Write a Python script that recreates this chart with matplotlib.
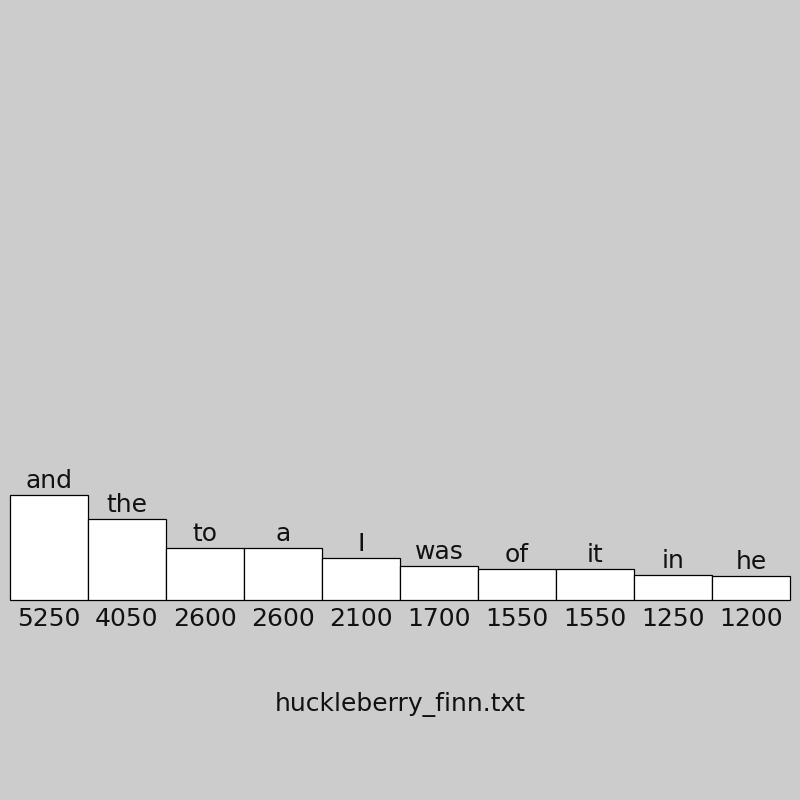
import matplotlib
matplotlib.use("Agg")
import matplotlib.pyplot as plt
from matplotlib.transforms import offset_copy

words = ["and", "the", "to", "a", "I", "was", "of", "it", "in", "he"]
counts = [5250, 4050, 2600, 2600, 2100, 1700, 1550, 1550, 1250, 1200]
title = "huckleberry_finn.txt"

bg = "#cccccc"
fig = plt.figure(figsize=(8, 8), dpi=100, facecolor=bg)
ax = fig.add_axes([10/800, 200/800, 780/800, 600/800])
ax.set_facecolor(bg)
ax.axis("off")
n = len(words)
bars = ax.bar(range(n), counts, width=1.0, align="edge", color="white",
              edgecolor="black", linewidth=0.9)
for b in bars:
    b.set_clip_on(False)
ax.set_xlim(0, n)
ax.set_ylim(0, 30000)

fs = 18
for i, (w, c) in enumerate(zip(words, counts)):
    t_up = offset_copy(ax.transData, fig=fig, x=0, y=7*72/100, units="points")
    ax.text(i + 0.5, c, w, transform=t_up, ha="center", va="baseline",
            fontsize=fs, color="#111111")
    t_dn = offset_copy(ax.transData, fig=fig, x=0, y=-26*72/100, units="points")
    ax.text(i + 0.5, 0, str(c), transform=t_dn, ha="center", va="baseline",
            fontsize=fs, color="#111111")

fig.text(0.5, 1 - 711/800, title, ha="center", va="baseline",
         fontsize=fs, color="#111111")

fig.savefig("out.png", dpi=100, facecolor=bg)
